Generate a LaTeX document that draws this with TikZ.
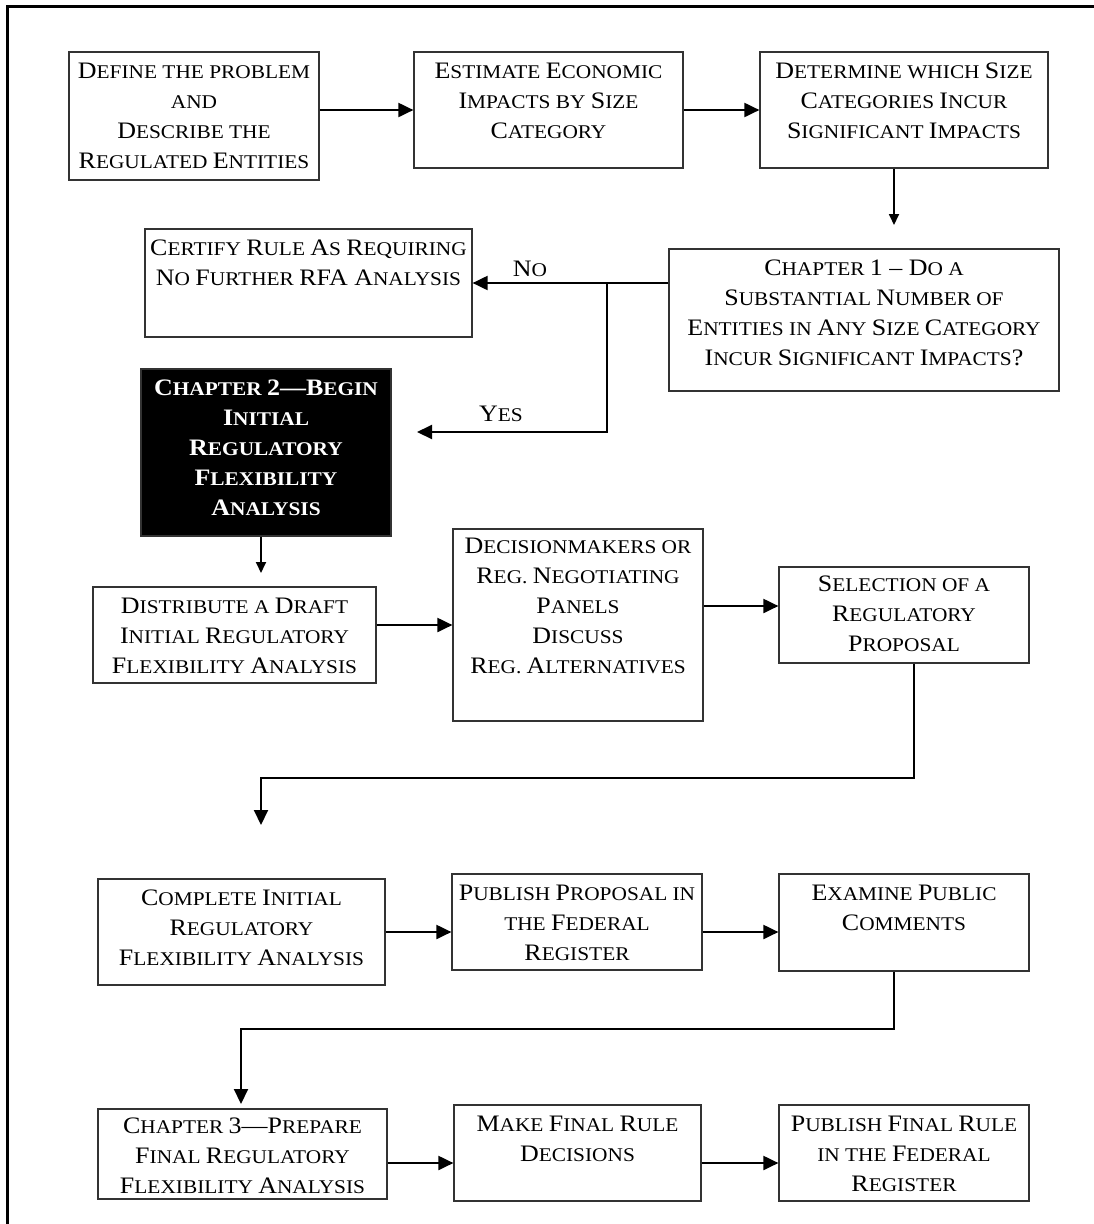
\documentclass[tikz,border=0pt]{standalone}
\usepackage{fontspec}
\setmainfont{Liberation Serif}[FakeStretch=1.1]
\usetikzlibrary{arrows.meta}

% full-size initial letters, the rest is set smaller (small caps)
\newcommand{\Cap}[1]{{\fontsize{23.6}{30}\selectfont #1}}

\begin{document}
\begin{tikzpicture}[x=1pt, y=-1pt,
    stage/.style={draw=black!80, line width=1.2pt, inner sep=0pt},
    stagetext/.style={anchor=north, yshift=-11.5pt, align=center, inner sep=0pt,
        font=\fontsize{19.4}{30}\selectfont},
    lbl/.style={inner sep=0pt, font=\fontsize{19.4}{30}\selectfont},
    arr/.style={line width=2pt, -{Triangle[length=15pt, width=14pt]}},
    arrsmall/.style={line width=1.8pt, -{Triangle[length=11pt, width=10pt]}}]
    \useasboundingbox (0,0) rectangle (1094,1224);
    % frame, cut at the right and bottom
    \draw[line width=3pt] (7,1224) -- (7,6) -- (1094,6);

    % first row
    \node[stage, minimum width=250, minimum height=128] (def) at (194,116) {};
    \node[stagetext] (defT) at (def.north) {\Cap{D}EFINE THE PROBLEM\\AND\\\Cap{D}ESCRIBE THE\\\Cap{R}EGULATED \Cap{E}NTITIES};
    \node[stage, minimum width=269, minimum height=116] (est) at (548.5,110) {};
    \node[stagetext] (estT) at (est.north) {\Cap{E}STIMATE \Cap{E}CONOMIC\\\Cap{I}MPACTS BY \Cap{S}IZE\\\Cap{C}ATEGORY};
    \node[stage, minimum width=288, minimum height=116] (det) at (904,110) {};
    \node[stagetext] (detT) at (det.north) {\Cap{D}ETERMINE WHICH \Cap{S}IZE\\\Cap{C}ATEGORIES \Cap{I}NCUR\\\Cap{S}IGNIFICANT \Cap{I}MPACTS};

    % the test
    \node[stage, minimum width=390, minimum height=142] (chone) at (864,320) {};
    \node[stagetext] (choneT) at (chone.north) {\Cap{C}HAPTER \Cap{1 -- D}O A\\\Cap{S}UBSTANTIAL \Cap{N}UMBER OF\\\Cap{E}NTITIES IN \Cap{A}NY \Cap{S}IZE \Cap{C}ATEGORY\\\Cap{I}NCUR \Cap{S}IGNIFICANT \Cap{I}MPACTS\Cap{?}};
    \node[stage, minimum width=327, minimum height=108] (cert) at (308.5,283) {};
    \node[stagetext] (certT) at (cert.north) {\Cap{C}ERTIFY \Cap{R}ULE \Cap{A}S \Cap{R}EQUIRING\\\Cap{N}O \Cap{F}URTHER \Cap{RFA A}NALYSIS};
    \node[stage, fill=black, minimum width=250, minimum height=167] (chtwo) at (266,452.5) {};
    \node[stagetext, text=white, font=\fontsize{19.4}{30}\selectfont\bfseries] (chtwoT) at (chtwo.north) {\Cap{C}HAPTER \Cap{2---B}EGIN\\\Cap{I}NITIAL\\\Cap{R}EGULATORY\\\Cap{F}LEXIBILITY\\\Cap{A}NALYSIS};

    % second row
    \node[stage, minimum width=283, minimum height=96] (draft) at (234.5,635) {};
    \node[stagetext] (draftT) at (draft.north) {\Cap{D}ISTRIBUTE A \Cap{D}RAFT\\\Cap{I}NITIAL \Cap{R}EGULATORY\\\Cap{F}LEXIBILITY \Cap{A}NALYSIS};
    \node[stage, minimum width=250, minimum height=192] (panel) at (578,625) {};
    \node[stagetext, yshift=2pt] (panelT) at (panel.north) {\Cap{D}ECISIONMAKERS OR\\\Cap{R}EG. \Cap{N}EGOTIATING\\\Cap{P}ANELS\\\Cap{D}ISCUSS\\\Cap{R}EG. \Cap{A}LTERNATIVES};
    \node[stage, minimum width=250, minimum height=96] (select) at (904,615) {};
    \node[stagetext, yshift=2pt] (selectT) at (select.north) {\Cap{S}ELECTION OF A\\\Cap{R}EGULATORY\\\Cap{P}ROPOSAL};

    % third row
    \node[stage, minimum width=287, minimum height=106] (irfa) at (241.5,932) {};
    \node[stagetext] (irfaT) at (irfa.north) {\Cap{C}OMPLETE \Cap{I}NITIAL\\\Cap{R}EGULATORY\\\Cap{F}LEXIBILITY \Cap{A}NALYSIS};
    \node[stage, minimum width=250, minimum height=96] (pubprop) at (577,922) {};
    \node[stagetext] (pubpropT) at (pubprop.north) {\Cap{P}UBLISH \Cap{P}ROPOSAL IN\\THE \Cap{F}EDERAL\\\Cap{R}EGISTER};
    \node[stage, minimum width=250, minimum height=97] (comments) at (904,922.5) {};
    \node[stagetext] (commentsT) at (comments.north) {\Cap{E}XAMINE \Cap{P}UBLIC\\\Cap{C}OMMENTS};

    % last row
    \node[stage, minimum width=289, minimum height=90] (frfa) at (242.5,1154) {};
    \node[stagetext, yshift=2pt] (frfaT) at (frfa.north) {\Cap{C}HAPTER \Cap{3---P}REPARE\\\Cap{F}INAL \Cap{R}EGULATORY\\\Cap{F}LEXIBILITY \Cap{A}NALYSIS};
    \node[stage, minimum width=247, minimum height=96] (decide) at (577.5,1153) {};
    \node[stagetext] (decideT) at (decide.north) {\Cap{M}AKE \Cap{F}INAL \Cap{R}ULE\\\Cap{D}ECISIONS};
    \node[stage, minimum width=250, minimum height=96] (pubfinal) at (904,1153) {};
    \node[stagetext] (pubfinalT) at (pubfinal.north) {\Cap{P}UBLISH \Cap{F}INAL \Cap{R}ULE\\IN THE \Cap{F}EDERAL\\\Cap{R}EGISTER};

    % free ends and bends
    \coordinate (detdrop) at (894,225);
    \coordinate (split) at (607,283);
    \coordinate (yestip) at (417,432);
    \coordinate (chtwodrop) at (261,573);
    \coordinate (selbend) at (914,778);
    \coordinate (irfatip) at (261,825);
    \coordinate (combend) at (894,1029);
    \coordinate (frfatip) at (241,1104);
    \coordinate (lastrow) at (0,1163);

    \draw[arr] (def.east |- est) -- (est);
    \draw[arr] (est) -- (det);
    \draw[arrsmall] (det.south -| detdrop) -- (detdrop);
    \draw[arr] (split -| chone.west) -- (split -| cert.east);
    \draw[arr] (split) |- (yestip);
    \node[lbl] (no) at (530,269) {\Cap{N}O};
    \node[lbl] (yes) at (501,414) {\Cap{Y}ES};
    \draw[arrsmall] (chtwo.south -| chtwodrop) -- (chtwodrop);
    \draw[arr] (draft.east |- panel) -- (panel);
    \draw[arr] ([yshift=9pt]select.west -| panel.east) -- ([yshift=9pt]select.west);
    \draw[arr] (select.south -| selbend) -- (selbend) -| (irfatip);
    \draw[arr] (irfa.east) -- (irfa.east -| pubprop.west);
    \draw[arr] (pubprop.east |- irfa) -- (comments.west |- irfa);
    \draw[arr] (comments.south -| combend) -- (combend) -| (frfatip);
    \draw[arr] (frfa.east |- lastrow) -- (decide.west |- lastrow);
    \draw[arr] (decide.east |- lastrow) -- (pubfinal.west |- lastrow);
\end{tikzpicture}
\end{document}
